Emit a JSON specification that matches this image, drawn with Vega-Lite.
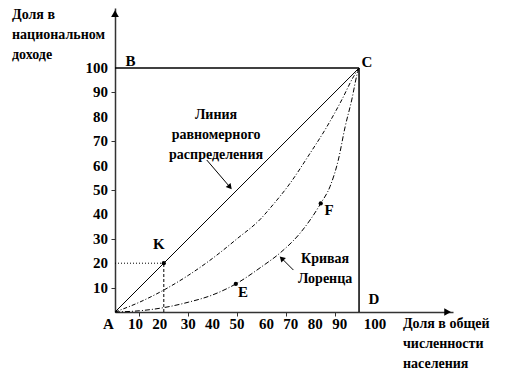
{
  "$schema": "https://vega.github.io/schema/vega-lite/v6.json",
  "width": 338,
  "height": 304,
  "autosize": {"type": "none"},
  "padding": {"left": 115, "top": 8, "right": 64, "bottom": 62},
  "background": "white",
  "config": {
    "view": {"stroke": null}
  },
  "datasets": {
    "curves": [
      {"s": "diag", "x": 0, "y": 0}, {"s": "diag", "x": 100, "y": 100},
      {"s": "inner", "x": 0, "y": 0}, {"s": "inner", "x": 10, "y": 4}, {"s": "inner", "x": 20, "y": 9},
      {"s": "inner", "x": 30, "y": 15}, {"s": "inner", "x": 40, "y": 22}, {"s": "inner", "x": 50, "y": 30},
      {"s": "inner", "x": 60, "y": 38.5}, {"s": "inner", "x": 63.5, "y": 42.5}, {"s": "inner", "x": 71.7, "y": 52.7},
      {"s": "inner", "x": 79.9, "y": 65}, {"s": "inner", "x": 86.8, "y": 75.9}, {"s": "inner", "x": 92.9, "y": 86.9},
      {"s": "inner", "x": 97.7, "y": 96.4}, {"s": "inner", "x": 100, "y": 100},
      {"s": "outer", "x": 0, "y": 0}, {"s": "outer", "x": 10, "y": 0.5}, {"s": "outer", "x": 20, "y": 1.8},
      {"s": "outer", "x": 30, "y": 4}, {"s": "outer", "x": 40, "y": 7}, {"s": "outer", "x": 49.5, "y": 11.5},
      {"s": "outer", "x": 60, "y": 18.5}, {"s": "outer", "x": 68, "y": 24.5}, {"s": "outer", "x": 76, "y": 32.5},
      {"s": "outer", "x": 84.3, "y": 44.5}, {"s": "outer", "x": 88.1, "y": 51.4}, {"s": "outer", "x": 91.5, "y": 62.3},
      {"s": "outer", "x": 94.3, "y": 75.9}, {"s": "outer", "x": 97, "y": 86.9}, {"s": "outer", "x": 99.3, "y": 97.8},
      {"s": "outer", "x": 100, "y": 100}
    ],
    "ticks": [
      {"v": 10}, {"v": 20}, {"v": 30}, {"v": 40}, {"v": 50},
      {"v": 60}, {"v": 70}, {"v": 80}, {"v": 90}, {"v": 100}
    ],
    "frame": [
      {"k": "BC", "x": 0, "y": 100, "x2": 100, "y2": 100},
      {"k": "CD", "x": 100, "y": 0, "x2": 100, "y2": 100}
    ],
    "guides": [
      {"k": "h", "x": 0, "y": 20, "x2": 20, "y2": 20},
      {"k": "v", "x": 20, "y": 0, "x2": 20, "y2": 20}
    ],
    "pts": [
      {"name": "K", "x": 20, "y": 20},
      {"name": "E", "x": 49.5, "y": 11.5},
      {"name": "F", "x": 84.3, "y": 44.5}
    ],
    "letters": [
      {"t": "B", "x": 6.4, "y": 102.7},
      {"t": "C", "x": 103.2, "y": 102.6},
      {"t": "D", "x": 106.1, "y": 5.5},
      {"t": "A", "x": -2.7, "y": -4.9},
      {"t": "K", "x": 18, "y": 27.7},
      {"t": "E", "x": 52.5, "y": 8.2},
      {"t": "F", "x": 87.7, "y": 41.8}
    ],
    "blocks": [
      {"t": "Линия\nравномерного\nраспределения", "x": 41.4, "y": 80.7, "align": "center"},
      {"t": "Кривая\nЛоренца", "x": 86.1, "y": 21.7, "align": "center"},
      {"t": "Доля в\nнациональном\nдоходе", "x": -42.2, "y": 121.7, "align": "left"},
      {"t": "Доля в общей\nчисленности\nнаселения", "x": 118, "y": -4.9, "align": "left"}
    ],
    "arrows": [
      {"k": "line", "x": 37.6, "y": 62.3, "x2": 47.1, "y2": 51.2, "angle": 140},
      {"k": "lorenz", "x": 73.1, "y": 17.2, "x2": 68.3, "y2": 22, "angle": 315}
    ],
    "axisHeads": [
      {"k": "y", "x": 0, "y": 122.3, "angle": 0},
      {"k": "x", "x": 136.3, "y": 0, "angle": 90}
    ]
  },
  "layer": [
    {
      "data": {"name": "curves"},
      "transform": [{"filter": "datum.s == 'diag'"}],
      "mark": {"type": "line", "color": "black", "strokeWidth": 1},
      "encoding": {
        "x": {"field": "x", "type": "quantitative", "scale": {"domain": [0, 138.5], "nice": false, "zero": false},
          "axis": {"values": [10, 20, 30, 40, 50, 60, 70, 80, 90, 100], "title": null, "grid": false, "labels": false,
            "domainColor": "#333", "domainWidth": 1.5, "tickColor": "#333", "tickSize": 4, "tickWidth": 1}},
        "y": {"field": "y", "type": "quantitative", "scale": {"domain": [0, 124.6], "nice": false, "zero": false},
          "axis": {"values": [10, 20, 30, 40, 50, 60, 70, 80, 90, 100], "title": null, "grid": false, "labels": false,
            "domainColor": "#333", "domainWidth": 1.5, "tickColor": "#333", "tickSize": 4, "tickWidth": 1}},
        "order": {"field": "x", "type": "quantitative"}
      }
    },
    {
      "data": {"name": "curves"},
      "transform": [{"filter": "datum.s == 'inner'"}],
      "mark": {"type": "line", "color": "black", "strokeWidth": 1, "strokeDash": [4, 2, 1, 2], "interpolate": "monotone"},
      "encoding": {
        "x": {"field": "x", "type": "quantitative"},
        "y": {"field": "y", "type": "quantitative"},
        "order": {"field": "x", "type": "quantitative"}
      }
    },
    {
      "data": {"name": "curves"},
      "transform": [{"filter": "datum.s == 'outer'"}],
      "mark": {"type": "line", "color": "black", "strokeWidth": 1, "strokeDash": [5, 2, 1, 2], "interpolate": "monotone"},
      "encoding": {
        "x": {"field": "x", "type": "quantitative"},
        "y": {"field": "y", "type": "quantitative"},
        "order": {"field": "x", "type": "quantitative"}
      }
    },
    {
      "data": {"name": "frame"},
      "mark": {"type": "rule", "color": "black", "strokeWidth": 1.5},
      "encoding": {
        "x": {"field": "x", "type": "quantitative"},
        "y": {"field": "y", "type": "quantitative"},
        "x2": {"field": "x2"},
        "y2": {"field": "y2"}
      }
    },
    {
      "data": {"name": "guides"},
      "transform": [{"filter": "datum.k == 'h'"}],
      "mark": {"type": "rule", "color": "black", "strokeWidth": 1, "strokeDash": [1, 2]},
      "encoding": {
        "x": {"field": "x", "type": "quantitative"},
        "y": {"field": "y", "type": "quantitative"},
        "x2": {"field": "x2"},
        "y2": {"field": "y2"}
      }
    },
    {
      "data": {"name": "guides"},
      "transform": [{"filter": "datum.k == 'v'"}],
      "mark": {"type": "rule", "color": "black", "strokeWidth": 1, "strokeDash": [3, 2]},
      "encoding": {
        "x": {"field": "x", "type": "quantitative"},
        "y": {"field": "y", "type": "quantitative"},
        "x2": {"field": "x2"},
        "y2": {"field": "y2"}
      }
    },
    {
      "data": {"name": "arrows"},
      "mark": {"type": "rule", "color": "black", "strokeWidth": 1},
      "encoding": {
        "x": {"field": "x", "type": "quantitative"},
        "y": {"field": "y", "type": "quantitative"},
        "x2": {"field": "x2"},
        "y2": {"field": "y2"}
      }
    },
    {
      "data": {"name": "arrows"},
      "mark": {"type": "point", "shape": "triangle-up", "filled": true, "color": "black", "size": 40, "opacity": 1},
      "encoding": {
        "x": {"field": "x2", "type": "quantitative"},
        "y": {"field": "y2", "type": "quantitative"},
        "angle": {"field": "angle", "type": "quantitative", "scale": null}
      }
    },
    {
      "data": {"name": "axisHeads"},
      "mark": {"type": "point", "shape": "triangle-up", "filled": true, "color": "black", "size": 60, "opacity": 1, "clip": false},
      "encoding": {
        "x": {"field": "x", "type": "quantitative"},
        "y": {"field": "y", "type": "quantitative"},
        "angle": {"field": "angle", "type": "quantitative", "scale": null}
      }
    },
    {
      "data": {"name": "pts"},
      "mark": {"type": "circle", "color": "black", "size": 18, "opacity": 1},
      "encoding": {
        "x": {"field": "x", "type": "quantitative"},
        "y": {"field": "y", "type": "quantitative"}
      }
    },
    {
      "data": {"name": "ticks"},
      "mark": {"type": "text", "font": "Liberation Serif", "fontWeight": "bold", "color": "black", "fontSize": 15, "align": "right", "baseline": "middle", "dx": -7},
      "encoding": {
        "x": {"datum": 0, "type": "quantitative"},
        "y": {"field": "v", "type": "quantitative"},
        "text": {"field": "v", "type": "quantitative"}
      }
    },
    {
      "data": {"name": "ticks"},
      "mark": {"type": "text", "font": "Liberation Serif", "fontWeight": "bold", "color": "black", "fontSize": 15, "align": "center", "baseline": "top", "dy": 5,
        "dx": {"expr": "datum.v == 100 ? 16 : (datum.v >= 60 ? 5 : (datum.v <= 20 ? -4 : 0))"}},
      "encoding": {
        "x": {"field": "v", "type": "quantitative"},
        "y": {"datum": 0, "type": "quantitative"},
        "text": {"field": "v", "type": "quantitative"}
      }
    },
    {
      "data": {"name": "letters"},
      "mark": {"type": "text", "font": "Liberation Serif", "fontWeight": "bold", "color": "black", "fontSize": 15, "align": "center", "baseline": "middle"},
      "encoding": {
        "x": {"field": "x", "type": "quantitative"},
        "y": {"field": "y", "type": "quantitative"},
        "text": {"field": "t"}
      }
    },
    {
      "data": {"name": "blocks"},
      "transform": [{"filter": "datum.align == 'center'"}],
      "mark": {"type": "text", "font": "Liberation Serif", "fontWeight": "bold", "color": "black", "fontSize": 14, "align": "center", "baseline": "middle", "lineBreak": "\n", "lineHeight": 20},
      "encoding": {
        "x": {"field": "x", "type": "quantitative"},
        "y": {"field": "y", "type": "quantitative"},
        "text": {"field": "t"}
      }
    },
    {
      "data": {"name": "blocks"},
      "transform": [{"filter": "datum.align == 'left'"}],
      "mark": {"type": "text", "font": "Liberation Serif", "fontWeight": "bold", "color": "black", "fontSize": 14, "align": "left", "baseline": "middle", "lineBreak": "\n", "lineHeight": 20},
      "encoding": {
        "x": {"field": "x", "type": "quantitative"},
        "y": {"field": "y", "type": "quantitative"},
        "text": {"field": "t"}
      }
    }
  ]
}
